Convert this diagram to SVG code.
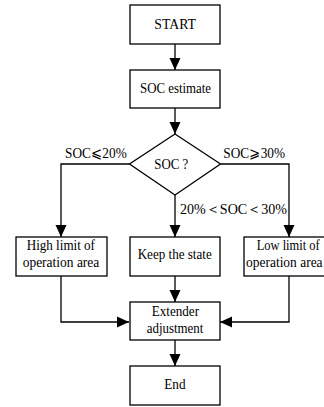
<svg xmlns="http://www.w3.org/2000/svg" width="324" height="407" viewBox="0 0 324 407">
<defs>
<marker id="arr" markerUnits="userSpaceOnUse" markerWidth="12" markerHeight="12" viewBox="0 0 12 11" refX="12" refY="5.5" orient="auto">
<path d="M0,0 L12,5.5 L0,11 Z" fill="#000"/>
</marker>
</defs>
<style>
.box{fill:#fff;stroke:#000;stroke-width:1.3}
.t{font-family:'Liberation Serif','DejaVu Serif',serif;font-size:15px;fill:#000}
.c{fill:none;stroke:#000;stroke-width:1.3;marker-end:url(#arr)}
</style>
<rect width="324" height="407" fill="#fff"/>
<g id="connectors">
<path class="c" d="M175,44 V70"/>
<path class="c" d="M175,108 V134"/>
<path class="c" d="M129.5,164 H61 V237"/>
<path class="c" d="M220.5,164 H289 V237"/>
<path class="c" d="M175,195 V237"/>
<path class="c" d="M175,276 V302"/>
<path class="c" d="M61,276 V322 H129"/>
<path class="c" d="M289,276 V322 H220"/>
<path class="c" d="M175,340 V366"/>
</g>
<g id="start"><rect class="box" x="130" y="5" width="90" height="39"/><text class="t" x="154.3" y="29.3" textLength="41.7" lengthAdjust="spacingAndGlyphs">START</text></g>
<g id="soc_estimate"><rect class="box" x="130" y="70" width="90" height="38"/><text class="t" x="140" y="92.7" textLength="71" lengthAdjust="spacingAndGlyphs">SOC estimate</text></g>
<g id="decision"><path class="box" d="M175,134 L220.5,164 L175,195 L129.5,164 Z"/><text class="t" x="154.3" y="169.3" textLength="34" lengthAdjust="spacingAndGlyphs">SOC ?</text></g>
<g id="labels">
<text class="t" x="65" y="158.3" textLength="61.7" lengthAdjust="spacingAndGlyphs">SOC⩽20%</text>
<text class="t" x="223.3" y="158.3" textLength="61.7" lengthAdjust="spacingAndGlyphs">SOC⩾30%</text>
<text class="t" x="180" y="214" textLength="107" lengthAdjust="spacingAndGlyphs">20%＜SOC＜30%</text>
</g>
<g id="high"><rect class="box" x="16" y="237" width="91" height="39"/><text class="t" x="26.7" y="250" textLength="68.3" lengthAdjust="spacingAndGlyphs">High limit of</text><text class="t" x="22.7" y="266.5" textLength="76.6" lengthAdjust="spacingAndGlyphs">operation area</text></g>
<g id="keep"><rect class="box" x="130" y="237" width="90" height="39"/><text class="t" x="137.7" y="259.3" textLength="74" lengthAdjust="spacingAndGlyphs">Keep the state</text></g>
<g id="low"><rect class="box" x="244" y="237" width="91" height="39"/><text class="t" x="256.7" y="250" textLength="63" lengthAdjust="spacingAndGlyphs">Low limit of</text><text class="t" x="246" y="266.5" textLength="76.6" lengthAdjust="spacingAndGlyphs">operation area</text></g>
<g id="extender"><rect class="box" x="130" y="302" width="90" height="38"/><text class="t" x="151.7" y="315.7" textLength="47.3" lengthAdjust="spacingAndGlyphs">Extender</text><text class="t" x="146.7" y="333.3" textLength="56.7" lengthAdjust="spacingAndGlyphs">adjustment</text></g>
<g id="end"><rect class="box" x="130" y="366" width="90" height="39"/><text class="t" x="164.3" y="389.3" textLength="21.3" lengthAdjust="spacingAndGlyphs">End</text></g>
</svg>
